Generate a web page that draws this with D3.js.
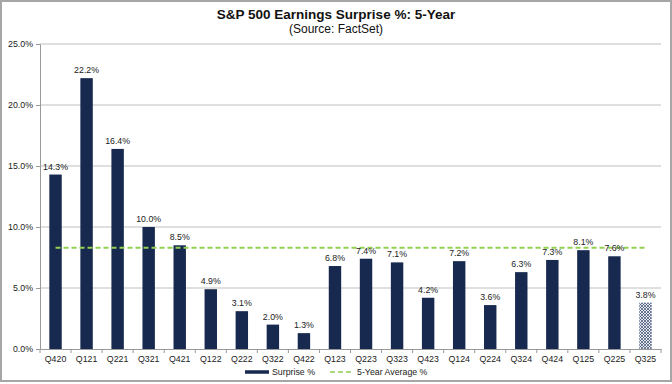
<!DOCTYPE html>
<html><head><meta charset="utf-8">
<script src="https://cdn.jsdelivr.net/npm/d3@7"></script>
<style>body{margin:0;background:#fff;font-family:Arial,"Liberation Sans",sans-serif;}</style>
</head><body><svg id="c" width="672" height="384"></svg>
<script>
const categories = ["Q420","Q121","Q221","Q321","Q421","Q122","Q222","Q322","Q422","Q123","Q223","Q323","Q423","Q124","Q224","Q324","Q424","Q125","Q225","Q325"];
const surprise = [14.3,22.2,16.4,10.0,8.5,4.9,3.1,2.0,1.3,6.8,7.4,7.1,4.2,7.2,3.6,6.3,7.3,8.1,7.6,3.8];
const fiveYearAvg = 8.3;
const yTicks = [0,5,10,15,20,25];
const hatchedCategory = "Q325";

const svg = d3.select("#c");
const W = 672, H = 384;
const m = {left:40, right:11, top:44, bottom:35};
const x = d3.scaleBand().domain(categories).range([m.left, W - m.right]).paddingInner(0.6).paddingOuter(0.3);
const y = d3.scaleLinear().domain([0,25]).range([H - m.bottom, m.top]);
const navy = "#17294f";
const fs = 8.8;

const defs = svg.append("defs");
const pat = defs.append("pattern").attr("id","hatch").attr("patternUnits","userSpaceOnUse").attr("width",3).attr("height",3);
pat.append("rect").attr("width",3).attr("height",3).attr("fill","#e4e7ee");
pat.append("path").attr("d","M0,3 L3,0 M0,0 L3,3").attr("stroke","#3a4a6e").attr("stroke-width",0.7);

// border
svg.append("rect").attr("x",1).attr("y",1).attr("width",670).attr("height",380).attr("fill","none").attr("stroke","#a6a6a6").attr("stroke-width",2);

// title
svg.append("text").attr("x",W/2).attr("y",19).attr("text-anchor","middle").attr("font-weight","bold").attr("font-size",13.5).attr("fill","#111").text("S&P 500 Earnings Surprise %: 5-Year");
svg.append("text").attr("x",W/2).attr("y",33).attr("text-anchor","middle").attr("font-size",12).attr("fill","#111").text("(Source: FactSet)");

// gridlines
svg.append("g").selectAll("line").data(yTicks.filter(d=>d>0)).join("line")
  .attr("x1",m.left).attr("x2",W-m.right).attr("y1",d=>y(d)).attr("y2",d=>y(d))
  .attr("stroke","#bfbfbf").attr("stroke-width",1.2);

// y axis
const ya = svg.append("g").attr("transform",`translate(${m.left},0)`)
  .call(d3.axisLeft(y).tickValues(yTicks).tickFormat(d=>d.toFixed(1)+"%").tickSize(4).tickPadding(3));
ya.select(".domain").attr("stroke","#999");
ya.selectAll(".tick line").attr("stroke","#999");
ya.selectAll("text").attr("font-size",fs).attr("fill","#222").attr("font-family","Arial,'Liberation Sans',sans-serif");

// x axis
const xa = svg.append("g").attr("transform",`translate(0,${y(0)})`)
  .call(d3.axisBottom(x).tickSize(0).tickPadding(7));
xa.select(".domain").attr("stroke","#999");
xa.selectAll("text").attr("font-size",fs).attr("fill","#222").attr("font-family","Arial,'Liberation Sans',sans-serif");
// boundary ticks
const bounds = d3.range(categories.length+1).map(i => m.left + i*(W-m.right-m.left)/categories.length);
svg.append("g").selectAll("line").data(bounds).join("line")
  .attr("x1",d=>d).attr("x2",d=>d).attr("y1",y(0)).attr("y2",y(0)+4).attr("stroke","#999");

// bars
svg.append("g").selectAll("rect").data(categories).join("rect")
  .attr("x",d=>x(d)).attr("width",x.bandwidth())
  .attr("y",(d,i)=>y(surprise[i])).attr("height",(d,i)=>y(0)-y(surprise[i]))
  .attr("fill",d=>d===hatchedCategory?"url(#hatch)":navy);

// average line
svg.append("line")
  .attr("x1",x(categories[0])+x.bandwidth()/2).attr("x2",x(categories[categories.length-1])+x.bandwidth()/2)
  .attr("y1",y(fiveYearAvg)).attr("y2",y(fiveYearAvg))
  .attr("stroke","#92d050").attr("stroke-width",1.8).attr("stroke-dasharray","5,3");

// labels
svg.append("g").selectAll("text").data(categories).join("text")
  .attr("x",d=>x(d)+x.bandwidth()/2).attr("y",(d,i)=>y(surprise[i])-5)
  .attr("text-anchor","middle").attr("font-size",fs).attr("fill","#222")
  .text((d,i)=>surprise[i].toFixed(1)+"%");

// legend
const ly = 372;
svg.append("line").attr("x1",245).attr("x2",269).attr("y1",ly).attr("y2",ly).attr("stroke",navy).attr("stroke-width",3.5);
svg.append("text").attr("x",272).attr("y",ly+3).attr("font-size",fs).attr("fill","#222").text("Surprise %");
svg.append("line").attr("x1",330).attr("x2",353).attr("y1",ly).attr("y2",ly).attr("stroke","#92d050").attr("stroke-width",1.5).attr("stroke-dasharray","5,3");
svg.append("text").attr("x",357).attr("y",ly+3).attr("font-size",fs).attr("fill","#222").text("5-Year Average %");
</script></body></html>
